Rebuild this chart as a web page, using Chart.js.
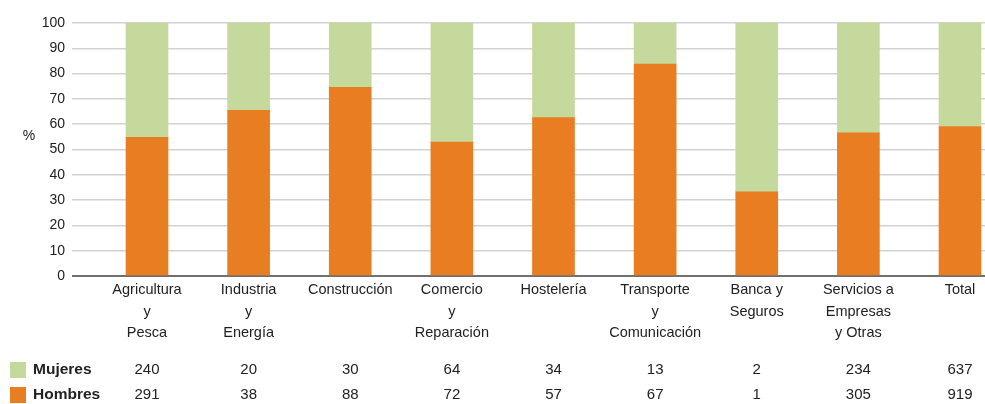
<!DOCTYPE html>
<html>
<head>
<meta charset="utf-8">
<script src="https://cdn.jsdelivr.net/npm/chart.js@4"></script>
<style>
  html, body { margin: 0; padding: 0; background: #ffffff; }
  canvas { display: block; }
</style>
</head>
<body>
<canvas id="c" width="985" height="404"></canvas>
<script>
// ---- Data ----
const categories = [
  ['Agricultura', 'y', 'Pesca'],
  ['Industria', 'y', 'Energía'],
  ['Construcción'],
  ['Comercio', 'y', 'Reparación'],
  ['Hostelería'],
  ['Transporte', 'y', 'Comunicación'],
  ['Banca y', 'Seguros'],
  ['Servicios a', 'Empresas', 'y Otras'],
  ['Total']
];
const seriesNames = ['Mujeres', 'Hombres'];
const mujeresCount = [240, 20, 30, 64, 34, 13, 2, 234, 637];
const hombresCount = [291, 38, 88, 72, 57, 67, 1, 305, 919];
const hombresPct = [54.8, 65.5, 74.6, 52.9, 62.6, 83.8, 33.3, 56.6, 59.1];
const mujeresPct = [45.2, 34.5, 25.4, 47.1, 37.4, 16.2, 66.7, 43.4, 40.9];
const yTicks = [0, 10, 20, 30, 40, 50, 60, 70, 80, 90, 100];
const yUnit = '%';

// ---- Styles ----
const GREEN = '#c6d99c';
const ORANGE = '#e97d21';
const GRID = '#d2d2d6';
const AXIS = '#707070';
const TEXT = '#222222';
const FONT = '"Liberation Sans", Arial, Helvetica, sans-serif';

const gridColor = (c) => (c.tick && c.tick.value === 0 ? AXIS : GRID);
const gridWidth = (c) => (c.tick && c.tick.value === 0 ? 2 : 1.5);

const tablePlugin = {
  id: 'tablePlugin',
  afterDraw(chart) {
    const ctx = chart.ctx;
    const xs = chart.scales.x;
    ctx.save();
    // unit label
    ctx.fillStyle = TEXT;
    ctx.font = '14px ' + FONT;
    ctx.textAlign = 'center';
    ctx.textBaseline = 'middle';
    ctx.fillText(yUnit, 29, 136);

    const rows = [
      { name: seriesNames[0], color: GREEN, values: mujeresCount, y: 370 },
      { name: seriesNames[1], color: ORANGE, values: hombresCount, y: 395 }
    ];
    rows.forEach((row) => {
      ctx.fillStyle = row.color;
      ctx.fillRect(10, row.y - 8, 16, 16);
      ctx.fillStyle = TEXT;
      ctx.font = 'bold 15.5px ' + FONT;
      ctx.textAlign = 'left';
      ctx.fillText(row.name, 33, row.y);
      ctx.font = '15px ' + FONT;
      ctx.textAlign = 'center';
      row.values.forEach((v, i) => {
        ctx.fillText(String(v), xs.getPixelForValue(i), row.y);
      });
    });
    ctx.restore();
  }
};

new Chart(document.getElementById('c'), {
  type: 'bar',
  data: {
    labels: categories,
    datasets: [
      { label: seriesNames[1], data: hombresPct, backgroundColor: ORANGE, borderWidth: 0, barThickness: 42, clip: false },
      { label: seriesNames[0], data: mujeresPct, backgroundColor: GREEN, borderWidth: 0, barThickness: 42, clip: false }
    ]
  },
  options: {
    responsive: false,
    animation: false,
    devicePixelRatio: 1,
    layout: { padding: { top: 23, bottom: 58, left: 0, right: 0 } },
    plugins: { legend: { display: false }, tooltip: { enabled: false }, title: { display: false } },
    scales: {
      x: {
        stacked: true,
        offset: false,
        grid: { display: false, drawTicks: false, tickLength: 0 },
        border: { display: false },
        ticks: {
          autoSkip: false, maxRotation: 0, minRotation: 0, padding: 3,
          color: TEXT, font: { family: FONT, size: 14.5, lineHeight: 1.5 }
        },
        afterFit(s) { s.height = 70; }
      },
      y: {
        stacked: true,
        min: 0, max: 100,
        afterBuildTicks(s) { s.ticks = yTicks.map(v => ({ value: v })); },
        grid: { color: gridColor, lineWidth: gridWidth, tickColor: gridColor, tickWidth: gridWidth, tickLength: 75, drawTicks: true },
        border: { display: false },
        ticks: { padding: 7, color: TEXT, font: { family: FONT, size: 14 } },
        afterFit(s) { s.width = 147; }
      },
      yr: {
        position: 'right',
        min: 0, max: 100,
        afterBuildTicks(s) { s.ticks = yTicks.map(v => ({ value: v })); },
        grid: { drawOnChartArea: false, color: gridColor, lineWidth: gridWidth, tickColor: gridColor, tickWidth: gridWidth, tickLength: 25, drawTicks: true },
        border: { display: false },
        ticks: { display: false },
        afterFit(s) { s.width = 25; }
      }
    }
  },
  plugins: [tablePlugin]
});
</script>
</body>
</html>
